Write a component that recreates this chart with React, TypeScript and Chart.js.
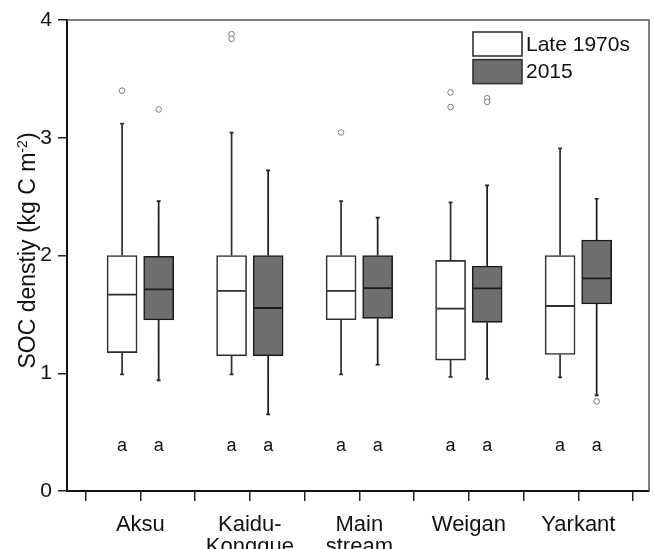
import React, { useEffect, useRef } from 'react';
import { Chart, registerables } from 'chart.js';

Chart.register(...registerables);

// ---------- data ----------
const categories: string[][] = [['Aksu'], ['Kaidu-', 'Kongque'], ['Main', 'stream'], ['Weigan'], ['Yarkant']];
const seriesNames = ['Late 1970s', '2015'];

// Late 1970s
const lateMin = [0.99, 0.99, 0.99, 0.97, 0.965];
const lateQ1 = [1.175, 1.148, 1.454, 1.112, 1.16];
const lateMedian = [1.668, 1.7, 1.7, 1.548, 1.571];
const lateQ3 = [2.0, 2.0, 2.0, 1.958, 2.0];
const lateMax = [3.12, 3.043, 2.462, 2.451, 2.91];
const lateOutliers = [[3.4], [3.88, 3.84], [3.045], [3.385, 3.261], []];
const lateLetters = ['a', 'a', 'a', 'a', 'a'];

// 2015
const recentMin = [0.94, 0.65, 1.072, 0.951, 0.812];
const recentQ1 = [1.452, 1.148, 1.466, 1.432, 1.588];
const recentMedian = [1.713, 1.554, 1.723, 1.721, 1.806];
const recentQ3 = [1.993, 2.0, 2.0, 1.91, 2.131];
const recentMax = [2.462, 2.723, 2.321, 2.595, 2.482];
const recentOutliers = [[3.24], [], [], [3.335, 3.305], [0.761]];
const recentLetters = ['a', 'a', 'a', 'a', 'a'];

const yTickValues = [0, 1, 2, 3, 4];
const xTickValues = [-0.5, 0, 0.5, 1, 1.5, 2, 2.5, 3, 3.5, 4, 4.5];

const yTitleMain = 'SOC denstiy (kg C m';
const yTitleSup = '-2';
const yTitleEnd = ')';

// ---------- styling ----------
const FONT = '"Liberation Sans", Arial, sans-serif';
const OFFSET = 0.167;
const HALF = 0.128;
const CAP = 0.018;
const LETTER_Y = 0.34;

const series = [
  { name: seriesNames[0], min: lateMin, q1: lateQ1, med: lateMedian, q3: lateQ3, max: lateMax, out: lateOutliers, letters: lateLetters, fill: '#ffffff', stroke: '#2e2e2e', off: -OFFSET },
  { name: seriesNames[1], min: recentMin, q1: recentQ1, med: recentMedian, q3: recentQ3, max: recentMax, out: recentOutliers, letters: recentLetters, fill: '#6f6f6f', stroke: '#1c1c1c', off: OFFSET },
];

function buildDatasets() {
  const ds: any[] = [];
  series.forEach((s) => {
    ds.push({
      type: 'bar',
      label: s.name,
      data: categories.map((_, i) => ({ x: i + s.off, y: [s.q1[i], s.q3[i]] })),
      backgroundColor: s.fill,
      borderColor: s.stroke,
      borderWidth: 1.6,
      borderSkipped: false,
      grouped: false,
      barThickness: 30,
      order: 2,
    });
    const whisk: any[] = [];
    categories.forEach((_, i) => {
      const x = i + s.off;
      whisk.push(
        { x, y: s.q3[i] }, { x, y: s.max[i] }, { x, y: null },
        { x, y: s.q1[i] }, { x, y: s.min[i] }, { x, y: null },
        { x: x - CAP, y: s.max[i] }, { x: x + CAP, y: s.max[i] }, { x, y: null },
        { x: x - CAP, y: s.min[i] }, { x: x + CAP, y: s.min[i] }, { x, y: null },
      );
    });
    ds.push({
      type: 'line',
      label: s.name + ' whiskers',
      data: whisk,
      borderColor: s.stroke,
      borderWidth: 1.7,
      pointRadius: 0,
      spanGaps: false,
      fill: false,
      order: 1,
    });
    const med: any[] = [];
    categories.forEach((_, i) => {
      const x = i + s.off;
      med.push({ x: x - HALF, y: s.med[i] }, { x: x + HALF, y: s.med[i] }, { x, y: null });
    });
    ds.push({
      type: 'line',
      label: s.name + ' median',
      data: med,
      borderColor: s.stroke,
      borderWidth: 1.8,
      pointRadius: 0,
      spanGaps: false,
      fill: false,
      order: 0,
    });
    const outs: any[] = [];
    categories.forEach((_, i) => {
      s.out[i].forEach((v) => outs.push({ x: i + s.off, y: v }));
    });
    ds.push({
      type: 'line',
      label: s.name + ' outliers',
      data: outs,
      showLine: false,
      pointRadius: 2.8,
      pointBorderWidth: 1,
      pointBorderColor: '#7a7a7a',
      pointBackgroundColor: '#ffffff',
      order: 0,
    });
  });
  return ds;
}

const annotationPlugin = {
  id: 'annotations',
  afterDatasetsDraw(chart: any) {
    const { ctx, chartArea, scales } = chart;
    const xs = scales.x;
    const ys = scales.y;
    ctx.save();
    // frame (top & right)
    ctx.strokeStyle = '#555';
    ctx.lineWidth = 1.5;
    ctx.beginPath();
    ctx.moveTo(chartArea.left, chartArea.top);
    ctx.lineTo(chartArea.right, chartArea.top);
    ctx.lineTo(chartArea.right, chartArea.bottom);
    ctx.stroke();

    // significance letters
    ctx.fillStyle = '#111';
    ctx.font = `18px ${FONT}`;
    ctx.textAlign = 'center';
    ctx.textBaseline = 'alphabetic';
    series.forEach((s) => {
      categories.forEach((_, i) => {
        ctx.fillText(s.letters[i], xs.getPixelForValue(i + s.off), ys.getPixelForValue(LETTER_Y));
      });
    });

    // legend
    const bx = chartArea.right - 176;
    const by = chartArea.top + 12;
    const bw = 49;
    const bh = 24;
    ctx.font = `21px ${FONT}`;
    ctx.textAlign = 'left';
    ctx.textBaseline = 'middle';
    series.forEach((s, k) => {
      const y = by + k * 27.6;
      ctx.fillStyle = s.fill;
      ctx.fillRect(bx, y, bw, bh);
      ctx.strokeStyle = '#333';
      ctx.lineWidth = 1.6;
      ctx.strokeRect(bx, y, bw, bh);
      ctx.fillStyle = '#111';
      ctx.fillText(s.name, bx + bw + 4, y + bh / 2 + 1);
    });
    ctx.restore();
  },
  afterDraw(chart: any) {
    const { ctx, chartArea } = chart;
    ctx.save();
    const cy = (chartArea.top + chartArea.bottom) / 2 - 5;
    ctx.translate(35, cy);
    ctx.rotate(-Math.PI / 2);
    ctx.fillStyle = '#111';
    ctx.textBaseline = 'alphabetic';
    ctx.textAlign = 'left';
    ctx.font = `23px ${FONT}`;
    const w1 = ctx.measureText(yTitleMain).width;
    const w3 = ctx.measureText(yTitleEnd).width;
    ctx.font = `14px ${FONT}`;
    const w2 = ctx.measureText(yTitleSup).width;
    let x = -(w1 + w2 + w3) / 2;
    ctx.font = `23px ${FONT}`;
    ctx.fillText(yTitleMain, x, 0);
    x += w1;
    ctx.font = `14px ${FONT}`;
    ctx.fillText(yTitleSup, x, -8);
    x += w2;
    ctx.font = `23px ${FONT}`;
    ctx.fillText(yTitleEnd, x, 0);
    ctx.restore();
  },
};

export default function App() {
  const ref = useRef<HTMLCanvasElement | null>(null);
  useEffect(() => {
    document.body.style.margin = '0';
    if (!ref.current) return;
    Chart.defaults.font.family = FONT;
    const chart = new Chart(ref.current, {
      type: 'bar',
      data: { datasets: buildDatasets() },
      options: {
        animation: false,
        responsive: false,
        devicePixelRatio: 1,
        events: [],
        layout: { padding: { top: 20, right: 2, left: 0, bottom: 0 } },
        plugins: { legend: { display: false }, tooltip: { enabled: false } },
        scales: {
          x: {
            type: 'linear',
            min: -0.67,
            max: 4.645,
            offset: false,
            afterBuildTicks: (scale: any) => {
              scale.ticks = xTickValues.map((v) => ({ value: v }));
            },
            afterFit: (scale: any) => {
              scale.height = 58;
            },
            ticks: {
              autoSkip: false,
              maxRotation: 0,
              minRotation: 0,
              padding: 13,
              color: '#111',
              font: { size: 22, lineHeight: 1.0 },
              callback: (v: any) => (Number.isInteger(v) && v >= 0 && v < categories.length ? categories[v] : ''),
            },
            grid: { display: true, drawOnChartArea: false, drawTicks: true, tickLength: 10, color: '#222', lineWidth: 1.5, offset: false },
            border: { display: true, color: '#111', width: 2 },
          },
          y: {
            type: 'linear',
            min: 0,
            max: 4,
            afterBuildTicks: (scale: any) => {
              scale.ticks = yTickValues.map((v) => ({ value: v }));
            },
            afterFit: (scale: any) => {
              scale.width = 67;
            },
            ticks: { padding: 6, color: '#111', font: { size: 21 } },
            grid: { display: true, drawOnChartArea: false, drawTicks: true, tickLength: 9, color: '#222', lineWidth: 1.5 },
            border: { display: true, color: '#111', width: 2 },
          },
        },
      },
      plugins: [annotationPlugin],
    } as any);
    return () => chart.destroy();
  }, []);
  return (
    <div style={{ width: 654, height: 549 }}>
      <canvas ref={ref} width={654} height={549} style={{ display: 'block' }} />
    </div>
  );
}
